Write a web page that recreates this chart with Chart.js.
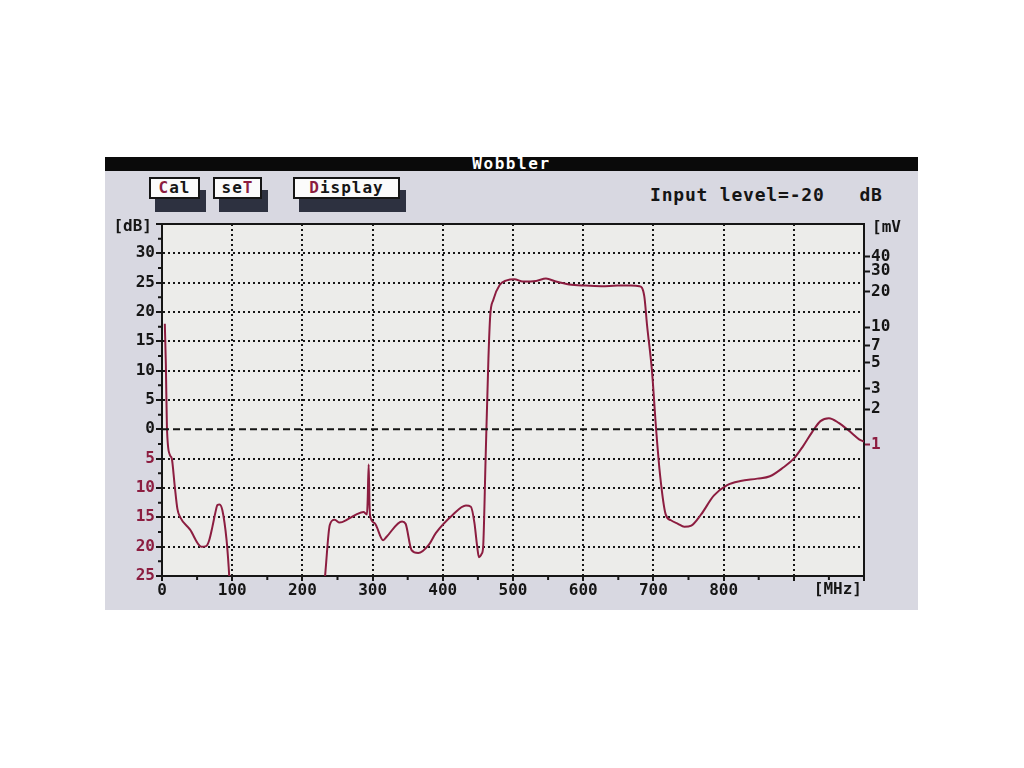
<!DOCTYPE html>
<html>
<head>
<meta charset="utf-8" />
<script src="https://cdn.jsdelivr.net/npm/chart.js@4/dist/chart.umd.min.js"></script>
<style>
body { margin: 0; background: #fff; }
#panel { position: absolute; left: 105px; top: 157px; width: 813px; height: 453px; background: #d8d8e1; overflow: hidden; }
#title { position: absolute; left: 0; top: 0; width: 100%; height: 14px; background: #0a0a0a; color: #fff;
	font: bold 16px 'DejaVu Sans Mono'; line-height: 14px; text-align: center; letter-spacing: 1.6px; }
.btn { position: absolute; top: 20px; height: 18px; background: #fbfbfb; border: 2px solid #151515;
	font: bold 16px 'DejaVu Sans Mono'; line-height: 18px; text-align: center; letter-spacing: 1px;
	box-shadow: 6px 13px 0 #2d3140; color: #151515; }
.hot { color: #8c1d40; }
#level { position: absolute; left: 545px; top: 27px; font: bold 18px 'DejaVu Sans Mono'; letter-spacing: 0.8px; white-space: pre; color: #151515; }
#myChart { position: absolute; left: 0; top: 0; }
</style>
</head>

<body>
<div id="panel">
	<div id="title">Wobbler</div>
	<div class="btn" style="left:44px;width:47px"><span class="hot">C</span>al</div>
	<div class="btn" style="left:108px;width:45px">se<span class="hot">T</span></div>
	<div class="btn" style="left:188px;width:103px"><span class="hot">D</span>isplay</div>
	<div id="level">Input level=-20   dB</div>
	<canvas id="myChart" width="813" height="453"></canvas>
</div>
</body>

<script>

// sweep (MHz / dB), null = trace below the bottom of the screen
const freqMHz = [
	4, 5.5, 7, 11, 14, 18, 22, 26, 40, 56, 63, 67, 72, 76, 79, 82, 86, 92, 95, 96,
	160,
	232, 233, 239, 246, 253, 265, 277, 287, 292, 293, 294.4, 295.5, 296.5, 303, 315, 320,
	342, 347, 355.5, 365, 380, 390, 414, 433, 440, 445, 449, 451.5, 455.5, 457.5,
	461, 465, 467.5, 472, 481, 491, 502, 514, 533, 547, 561, 580, 603, 626, 649, 668, 680,
	687, 691, 698, 704, 709.5, 717.5, 725, 735, 744, 754, 768, 786, 805, 824, 848, 866,
	885, 900, 913, 927, 938, 950, 964, 979, 993, 1000
];
const levelDb = [
	18, 11, 0.5, -4.3, -5, -9.5, -13.6, -15, -17.1, -20, -19.9, -19, -16.5, -14.2, -12.9, -12.8, -13.8, -18.9, -23.5, -25.5,
	null,
	-25.5, -24, -16.3, -15.4, -15.9, -15.3, -14.5, -14.1, -14.5, -12, -6, -12.5, -14.8, -16, -18.9, -18.3,
	-15.7, -16.1, -20.6, -21.1, -19.7, -17.7, -14.6, -13, -13.2, -15.9, -20, -21.8, -21.2, -20,
	-4.9, 12.1, 19.3, 22.1, 24.6, 25.4, 25.6, 25.2, 25.3, 25.7, 25.2, 24.7, 24.5, 24.4, 24.5, 24.5, 24.4,
	22.7, 17.7, 9.9, -0.2, -7.8, -14.5, -15.5, -16.1, -16.6, -16.4, -14.5, -11.3, -9.5, -8.8, -8.4, -8.0,
	-6.5, -5, -2.9, -0.3, 1.4, 1.9, 1.1, -0.3, -1.7, -2.1
];

const mhzTicks = [0, 100, 200, 300, 400, 500, 600, 700, 800];
const dbTicks = [-25, -20, -15, -10, -5, 0, 5, 10, 15, 20, 25, 30];
const mvTicks = [40, 30, 20, 10, 7, 5, 3, 2, 1];
const mvOffsetDb = -2.6;

const ink = '#151515';
const red = '#8c1d40';
const monoFont = {family: "'DejaVu Sans Mono'", size: 16, weight: 'bold'};

const ctx = document.getElementById('myChart');

const screenPlugin = {
	id: 'wobbler_screen',
	beforeDraw: (chart) => {
		const {ctx, chartArea: a} = chart;
		ctx.save();
		ctx.fillStyle = '#ececea';
		ctx.fillRect(a.left, a.top, a.right - a.left, a.bottom - a.top);
		ctx.restore();
	},
	afterDraw: (chart) => {
		const {ctx, chartArea: a} = chart;
		const x = chart.scales.x, y = chart.scales.y;
		ctx.save();
		// 0 dB dashed line
		ctx.strokeStyle = ink;
		ctx.lineWidth = 2;
		ctx.setLineDash([7, 4]);
		ctx.beginPath();
		ctx.moveTo(a.left, y.getPixelForValue(0));
		ctx.lineTo(a.right, y.getPixelForValue(0));
		ctx.stroke();
		ctx.setLineDash([]);
		// frame top
		ctx.beginPath();
		ctx.moveTo(a.left, a.top);
		ctx.lineTo(a.right, a.top);
		ctx.stroke();
		// minor ticks
		ctx.beginPath();
		for (let v = -22.5; v < 35; v += 5) {
			const py = y.getPixelForValue(v);
			ctx.moveTo(a.left - 4, py);
			ctx.lineTo(a.left, py);
		}
		for (let v = 50; v < 1000; v += 100) {
			const px = x.getPixelForValue(v);
			ctx.moveTo(px, a.bottom);
			ctx.lineTo(px, a.bottom + 4);
		}
		ctx.stroke();
		// unit labels
		ctx.fillStyle = ink;
		ctx.font = "bold 16px 'DejaVu Sans Mono'";
		ctx.textBaseline = 'middle';
		ctx.textAlign = 'right';
		ctx.fillText('[dB]', a.left - 10, a.top + 3);
		ctx.fillText('[MHz]', a.right - 2, a.bottom + 14);
		ctx.textAlign = 'left';
		ctx.fillText('[mV', a.right + 8, a.top + 4);
		ctx.restore();
	}
};

new Chart(ctx, {
	type: 'line',
	data: {
		datasets: [{
			label: 'Wobbler',
			data: freqMHz.map((f, i) => ({x: f, y: levelDb[i]})),
			borderColor: red,
			borderWidth: 2,
			pointRadius: 0,
			cubicInterpolationMode: 'monotone',
			spanGaps: false
		}]
	},
	options: {
		responsive: false,
		animation: false,
		layout: {padding: {left: 7, right: 9, top: 67, bottom: 4}},
		plugins: {
			legend: {display: false},
			tooltip: {enabled: false}
		},
		scales: {
			x: {
				type: 'linear',
				min: 0,
				max: 1000,
				afterFit: (s) => { s.height = 30; },
				afterBuildTicks: (s) => {
					s.ticks = mhzTicks.concat([900, 1000]).map(v => ({value: v}));
				},
				ticks: {
					autoSkip: false,
					maxRotation: 0,
					font: monoFont,
					color: ink,
					padding: 0,
					callback: (v) => mhzTicks.includes(v) ? String(v) : ''
				},
				grid: {
					color: (c) => (c.tick && (c.tick.value === 0 || c.tick.value === 1000)) ? 'rgba(0,0,0,0)' : ink,
					lineWidth: 2,
					tickLength: 5,
					tickColor: ink,
					tickWidth: 2
				},
				border: {display: true, color: ink, width: 2, dash: [2, 3]}
			},
			y: {
				type: 'linear',
				min: -25,
				max: 35,
				afterFit: (s) => { s.width = 50; },
				afterBuildTicks: (s) => {
					s.ticks = dbTicks.concat([35]).map(v => ({value: v}));
				},
				ticks: {
					autoSkip: false,
					font: monoFont,
					padding: 1,
					color: (c) => c.tick.value < 0 ? red : ink,
					callback: (v) => dbTicks.includes(v) ? String(Math.abs(v)) : ''
				},
				grid: {
					color: (c) => (c.tick && (c.tick.value === 0 || c.tick.value === -25 || c.tick.value === 35)) ? 'rgba(0,0,0,0)' : ink,
					lineWidth: 2,
					tickLength: 6,
					tickColor: ink,
					tickWidth: 2
				},
				border: {display: true, color: ink, width: 2, dash: [2, 3]}
			},
			y2: {
				type: 'linear',
				position: 'right',
				min: -25,
				max: 35,
				afterFit: (s) => { s.width = 45; },
				afterBuildTicks: (s) => {
					s.ticks = mvTicks.map(mv => ({value: 20 * Math.log10(mv) + mvOffsetDb}));
				},
				ticks: {
					autoSkip: false,
					font: monoFont,
					padding: 1,
					color: (c) => mvTicks[c.index] === 1 ? red : ink,
					callback: (v, i) => String(mvTicks[i])
				},
				grid: {
					drawOnChartArea: false,
					tickLength: 6,
					tickColor: (c) => mvTicks[c.index] === 1 ? red : ink,
					tickWidth: 2
				},
				border: {display: true, color: ink, width: 2}
			}
		}
	},
	plugins: [screenPlugin]
});
</script>
</html>
